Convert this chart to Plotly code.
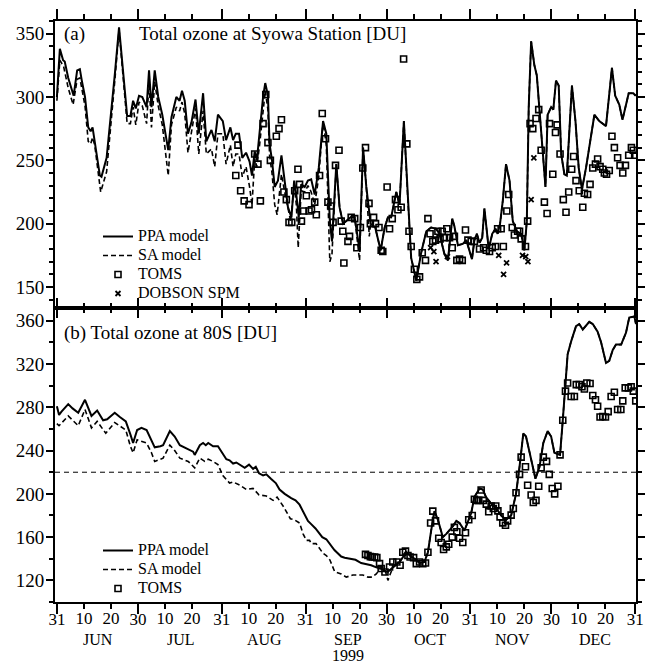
import plotly.graph_objects as go

# ---------------- data (x = days since 31 May 1999) ----------------
# Panel (a): Syowa Station
ppa_a_day = [0, 1.1, 2.3, 2.9, 4.2, 6.2, 7.5, 8.5, 9.3, 10.4, 11.6, 12.5, 13.2, 14, 15.9, 16.5, 18.4, 21.4, 23,
             26, 27.2, 28.2, 29.2, 30.4, 31.6, 33.2, 34.1, 35, 36.2, 37.5, 39, 41.2, 42.4, 44.2, 45.4, 46.3, 47.3,
             48.5, 49.8, 51.3, 52.5, 54.1, 55.3, 57.2, 58.4, 59.6, 61.4, 62.6, 64.2, 65.2, 66.2, 67.4, 68.6, 70,
             71.3, 72.2, 73.2, 74, 75, 76.3, 77.1, 78.1, 78.7, 79.6, 80.6, 81.8, 83.1, 84.3, 85.5, 86.8, 87.8, 88.6,
             89.5, 90.4, 91.7, 92.9, 94.1, 95.4, 96.9, 98.5, 99.7, 101, 101.8, 103.4, 104.6, 105.9, 107.1, 108.7,
             110.2, 112, 113.3, 114.5, 116.1, 117.8, 119.8, 121.3, 122.5, 123.7, 125.6, 126.8, 128.4, 129.9, 131.1,
             133, 134.8, 136.7, 138.5, 140.3, 141.6, 143.4, 144.7, 146.3, 147.1, 148.4, 150.2, 151.5, 152.7, 153.6,
             154.5, 155.4, 156.4, 157.4, 158.2, 159.1, 159.8, 161.1, 162.3, 163.1, 164, 165, 166.2, 167.5, 168.7,
             170.2, 171.8, 173, 173.9, 174.6, 175.5, 176.7, 177.6, 178.5, 179.8, 180.8, 181.6, 182.9, 183.7, 184.7,
             185.7, 186.6, 187.8, 188.7, 190.6, 191.9, 193.1, 194.3, 195.8, 197, 198.9, 200.7, 203.2, 205.4, 206.6,
             208.1, 209.3, 211.6, 213.3, 214.2]
ppa_a_val = [300, 338, 329, 328, 315, 301, 321, 322, 312, 300, 276, 273, 276, 265, 238, 237, 252, 317, 355,
             285, 285, 297, 291, 301, 300, 292, 321, 292, 321, 300, 286, 258, 284, 300, 297, 305, 297,
             271, 280, 298, 271, 303, 265, 274, 265, 286, 281, 266, 276, 266, 271, 271, 252, 256,
             249, 238, 257, 250, 273, 300, 311, 301, 263, 250, 229, 234, 254, 234, 213, 205, 234, 223,
             205, 231, 229, 234, 235, 223, 244, 281, 271, 202, 186, 247, 213, 200, 202, 205,
             205, 179, 260, 229, 200, 197, 179, 197, 205, 205, 225, 215, 281, 218, 173,
             155, 177, 194, 197, 196, 192, 176, 171, 204, 198, 183, 184, 187, 179, 172,
             187, 192, 185, 189, 212, 192, 180, 192, 196, 192, 200, 218, 247, 234, 202,
             194, 192, 179, 202, 292, 344, 325, 317, 292, 258, 229, 286, 292, 290, 313,
             309, 255, 239, 238, 309, 281, 244, 227, 244, 260, 286, 281, 277, 323, 301,
             294, 282, 303, 303, 301]

sa_a_day = [0, 1.1, 2.5, 4.2, 6, 7.5, 8.5, 10.4, 11.6, 12.5, 13.2, 14, 16.2, 18.4, 21.4, 23, 26, 27.2, 28.2,
            29.2, 30.4, 31.6, 33.2, 34.1, 35, 36.2, 37.5, 39, 41.2, 42.4, 44.2, 45.4, 46.3, 47.3, 48.5, 49.8,
            51.3, 52.5, 54.1, 55.3, 57.2, 58.4, 59.6, 61.4, 62.6, 64.2, 65.2, 66.2, 67.4, 68.6, 70, 71.3, 72.2,
            73.2, 74, 75, 76.3, 77.1, 78.1, 78.7, 79.6, 80.6, 81.5, 83.1, 84.3, 85.5, 86.5, 87.8, 88.6, 89.3,
            90.4, 91.7, 92.9, 94.1, 95.4, 96.9, 98.5, 99.7, 101, 101.8, 103.4, 104.6, 105.9, 107.1, 108.7,
            110.2, 112, 113.3, 114.5, 115.6, 116.1, 117.8, 119.8, 121.3, 122.5, 123.7, 125.6, 126.8, 128.4,
            129.9, 131.1, 133, 134.8, 136.7, 138.5, 140.3, 141.6, 143.4, 144.7, 146.3, 147.1, 148.4, 150.2,
            151.5, 152.7, 153.6, 154.5, 155.4, 156.4, 157.4, 158.2, 159.1, 159.8, 161.1, 162.3, 163.1, 164,
            165, 166.2, 167.5, 168.7, 170.2, 171.8, 173, 173.9, 174.6, 175.5, 176.7, 177.6, 178.5, 179.8,
            180.8, 181.6, 182.9, 183.7, 184.7, 185.7, 186.6, 187.8, 188.7, 190.6, 191.9, 193.1, 194.3, 195.8,
            197, 198.9, 200.7, 203.2, 205.4, 206.6, 208.1, 209.3, 211.6, 213.3, 214.2]
sa_a_val = [297, 329, 324, 307, 294, 314, 315, 293, 265, 263, 268, 262, 225, 241, 312, 353, 279, 279, 292,
            278, 296, 293, 279, 312, 276, 312, 293, 278, 238, 278, 292, 289, 296, 287, 256, 273,
            291, 255, 289, 255, 259, 245, 271, 271, 247, 262, 245, 255, 255, 237, 245, 229, 215,
            251, 245, 262, 292, 305, 290, 254, 240, 215, 207, 239, 225, 212, 202, 230, 215, 181,
            226, 225, 230, 225, 215, 237, 281, 262, 170, 176, 247, 213, 200, 202, 205,
            205, 171, 260, 229, 190, 200, 197, 179, 197, 205, 205, 225, 215, 281,
            218, 173, 155, 177, 194, 197, 196, 192, 176, 171, 204, 198, 183, 184,
            187, 179, 172, 187, 192, 185, 189, 212, 192, 180, 192, 196, 192, 200,
            218, 247, 234, 202, 194, 192, 179, 202, 292, 344, 325, 317, 292, 258,
            229, 286, 292, 290, 313, 309, 255, 239, 238, 309, 281, 244, 227, 244,
            260, 286, 281, 277, 323, 301, 294, 282, 303, 303, 301]

toms_a_day = [66.2, 67.0, 68.0, 69.3, 71.1, 73.2, 74.4, 75.3, 76.3, 77.3, 78.1, 79, 81.2, 82.2, 83.1, 84.0, 84.9,
              85.9, 86.9, 88, 89.2, 89.8, 90.5, 91.3, 92.3, 93.3, 94.2, 95.4, 96, 97.2, 98.2, 99.4, 100.3, 101.3,
              102.2, 103.1, 104.4, 105.2, 105.8, 106.2, 107.7, 108.3, 108.9, 110.2, 111, 112.3, 113.2, 114.2,
              115.5, 116, 117.2, 117.9, 119.2, 120, 120.6, 122.2, 123.1, 124.1, 125.3, 126.2, 127.4, 128.3,
              129.5, 130.3, 131.1, 132.3, 133.2, 134.2, 135.2, 136.4, 137.3, 138.1, 139.1, 140.1, 141, 141.8,
              142.6, 143.4, 144.3, 145.3, 146.3, 147.1, 148, 149, 150, 151.2, 152.1, 153.3, 154.5, 156.4, 157.9,
              158.9, 160.1, 161.1, 162.3, 163.1, 164.4, 165.2, 166.5, 167.2, 168.5, 169.3, 170.5, 171.2, 171.8,
              173.4, 174.2, 175.1, 176.1, 177.3, 178.3, 179.2, 180.4, 181.4, 182.3, 183.5, 184.5, 185.1, 186.2,
              187.4, 188.4, 189.4, 190.5, 191.2, 192.1, 193.3, 194.6, 195.2, 196.4, 197.3, 198.3, 199.3, 200.1,
              201, 202, 202.6, 203.4, 204.4, 205.4, 206.3, 207.5, 208.4, 209.4, 210.4, 211.6, 212.6, 213.3, 214.2]
toms_a_val = [238, 262, 226, 218, 215, 255, 247, 218, 279, 302, 264, 250, 269, 275, 282, 225, 219,
              201, 201, 226, 243, 231, 202, 210, 222, 210, 211, 217, 207, 238, 287, 267, 217, 214,
              201, 246, 258, 202, 194, 169, 186, 190, 205, 204, 181, 197, 244, 260,
              216, 200, 205, 200, 197, 179, 178, 229, 196, 204, 219, 211, 213, 330,
              263, 194, 182, 164, 156, 158, 177, 171, 204, 192, 186, 187, 194, 188,
              194, 189, 196, 189, 181, 190, 171, 172, 171, 195, 187, 186, 186, 180, 181,
              179, 178, 181, 182, 196, 196, 182, 210, 223, 197, 191, 194, 194, 188,
              182, 202, 279, 275, 283, 290, 258, 217, 208, 279, 239, 272, 278, 255,
              219, 209, 225, 243, 253, 234, 226, 213, 224, 223, 231, 244, 247, 251,
              245, 243, 240, 239, 242, 269, 260, 252, 246, 240, 246, 254, 260, 258, 254]

dobson_day = [138.3, 139.5, 140.3, 144.5, 163.5, 165.3, 166.4, 172.3, 173.5, 174.3, 175.5, 176.5]
dobson_val = [181, 178, 170, 174, 175, 160, 169, 175, 174, 170, 219, 252]

# Panel (b): 80S
ppa_b_day = [0, 0.8, 1.7, 4.2, 5.8, 7.9, 10.4, 12.8, 14.9, 17.1, 18.6, 21.4, 23.3, 25.5, 27.2, 28.2, 29.7, 31.3,
             33.2, 34.6, 36.2, 38.3, 39.3, 41.8, 43.6, 45.5, 48, 50.4, 51, 52.9, 54.1, 55.1, 56, 57.8, 59.6, 61.2,
             62.7, 63.9, 65.2, 66.4, 68.3, 69.5, 71.1, 72.6, 73.6, 74.8, 76.3, 77.5, 79.2, 81, 82.4, 84.3, 86.7,
             88.3, 89.8, 91.7, 92.9, 94.1, 95.7, 98.2, 99.7, 102.7, 104, 105.2, 106.5, 108.9, 110.5, 112.6, 114.4,
             116.3, 118.2, 119.9, 121.8, 122.5, 124.3, 126.8, 129.3, 131.1, 133, 134.2, 136, 137.3, 138.5, 139.7,
             141, 142.8, 144.1, 146.5, 147.8, 149, 150.8, 152.1, 153.3, 154.5, 156.4, 157.6, 158.8, 160.7, 162.5,
             164.4, 166.2, 168.1, 169.9, 171.2, 172.6, 173.6, 175.5, 177.1, 178.6, 180, 181.6, 182.9, 184.1, 185.3,
             186.2, 187.2, 189, 190.3, 192.1, 193.3, 194.6, 197, 198.3, 200.1, 201.4, 203.2, 204.4, 205.7, 206.9,
             208.8, 210.6, 211.8, 213.7, 214.3]
ppa_b_val = [281, 273, 276, 283, 279, 275, 287, 272, 277, 268, 269, 275, 271, 267, 255, 247, 259, 261,
             259, 252, 243, 244, 245, 258, 253, 245, 242, 239, 236, 245, 247, 245, 247, 244, 244, 238,
             232, 231, 228, 229, 226, 224, 227, 223, 225, 219, 217, 218, 214, 210, 204, 200, 196,
             194, 190, 180, 175, 172, 168, 160, 158, 148, 145, 142, 141, 140, 139, 136, 135,
             134, 132, 131, 128, 128, 132, 137, 146, 142, 139, 136, 137, 146, 166, 184,
             176, 160, 163, 170, 175, 173, 166, 174, 182, 197, 205, 204, 197, 191, 187,
             180, 176, 180, 200, 225, 256, 253, 231, 214, 225, 247, 258, 253, 238, 237,
             236, 268, 329, 341, 355, 357, 352, 359, 357, 350, 340, 321, 323, 333, 338,
             338, 349, 363, 364, 357]

sa_b_day = [0, 0.8, 4.2, 7.9, 10.4, 12.8, 14.9, 18.1, 21.4, 25.5, 27.2, 28.2, 29.7, 33.2, 35, 36.2, 39.3, 41.8,
            43.6, 45.5, 48.6, 51, 52.9, 54.7, 56, 57.8, 59.6, 61.4, 63.9, 65.2, 67.7, 70.1, 72.6, 74.8, 77.5, 80,
            81.5, 83.9, 86.4, 87.9, 89.8, 91.1, 92.3, 93.5, 94.1, 95.9, 98.5, 99.7, 101, 102.8, 105.2, 107.1,
            109.5, 111.4, 113.2, 115.1, 116.6, 118.2, 120, 121.3, 122.5, 124.3, 126.8, 129.3, 131.1, 133, 134.2,
            136, 137.3, 138.5, 139.7, 141, 142.8, 144.1, 146.5, 147.8, 149, 150.8, 152.1, 153.3, 154.5, 156.4,
            157.6, 158.8, 160.7, 162.5, 164.4, 166.2, 168.1, 169.9, 171.2, 172.6, 173.6, 175.5, 177.1, 178.6,
            180, 181.6, 182.9, 184.1, 185.3, 186.2, 187.2, 189, 190.3, 192.1, 193.3, 194.6, 197, 198.3, 200.1,
            201.4, 203.2, 204.4, 205.7, 206.9, 208.8, 210.6, 211.8, 213.7, 214.3]
sa_b_val = [265, 263, 272, 263, 278, 261, 267, 256, 266, 259, 244, 238, 250, 247, 238, 230, 233, 245,
            240, 233, 230, 224, 233, 230, 232, 230, 227, 217, 210, 211, 208, 204, 205, 199, 198, 194,
            197, 188, 177, 176, 173, 163, 157, 157, 154, 154, 145, 143, 139, 128, 126, 123,
            125, 125, 125, 123, 123, 126, 132, 131, 120, 132, 137, 146, 142, 139, 136,
            137, 146, 166, 184, 176, 160, 163, 170, 175, 173, 166, 174, 182, 197, 205,
            204, 197, 191, 187, 180, 176, 180, 200, 225, 256, 253, 231, 214, 225,
            247, 258, 253, 238, 237, 236, 268, 329, 341, 355, 357, 352, 359, 357, 350,
            340, 321, 323, 333, 338, 338, 349, 363, 364, 357]

toms_b_day = [114.2, 115.1, 116, 116.7, 117.6, 118.4, 119.4, 120, 121.4, 123.1, 124.3, 125.8, 127, 128, 129,
              129.9, 130.7, 132, 133, 134.2, 135.4, 136.4, 137.3, 138.3, 139.1, 140.1, 141.3, 142.2, 143.1,
              144.1, 145, 146.3, 147.1, 148, 149, 150.2, 151.2, 152.4, 153.7, 154.5, 155.3, 156.1, 157, 157.8,
              158.9, 159.8, 160.7, 161.5, 162.4, 163.2, 164, 165, 166, 166.8, 168.1, 168.9, 169.9, 171.2, 171.8,
              173.4, 174.2, 175.5, 176.3, 177.3, 178.3, 179.2, 180, 181.2, 182.2, 183.3, 184.2, 185.4, 186.2,
              187.2, 188.2, 189, 190.3, 191.5, 192.2, 193.3, 194.3, 195.2, 196.1, 197.3, 198.3, 199.3, 200.1,
              201, 202, 203, 204, 205.1, 206.3, 207.5, 208.7, 209.4, 210.3, 211.5, 212.5, 213.3, 214.2]
toms_b_val = [144, 143, 142, 141.6, 141.6, 141, 135.5, 131, 127.7, 132.4, 137, 137, 134, 146, 147,
              143, 141.6, 141, 135.5, 137, 135.5, 136, 146, 173, 184, 175, 159, 155, 148.5,
              151, 153.4, 160, 169, 165, 159, 155, 164, 176, 180, 195, 194, 194, 203.5, 194,
              190.5, 183.4, 188.7, 186.5, 188.7, 184.3, 178.7, 173.2, 171, 175, 180.3, 186.5, 201, 218, 234,
              225, 208, 199, 192, 194, 207, 224, 234, 230, 218, 205, 200, 207, 236,
              268, 295, 302.5, 290, 290, 301, 301, 299, 297, 302.5, 302, 291, 287, 281,
              271, 271.5, 271, 276, 290, 294, 278, 278, 286, 298, 298, 299, 295, 286]

ref_level_b = 220

# axis ticks
month_end_days = [0, 30, 61, 92, 122, 153, 183, 214]
month_end_text = ["31", "30", "31", "31", "30", "31", "30", "31"]
mid_days = [10, 20, 40, 50, 71, 81, 102, 112, 132, 142, 163, 173, 193, 203]
mid_text = ["10", "20"] * 7
month_names = ["JUN", "JUL", "AUG", "SEP", "OCT", "NOV", "DEC"]
month_mid_days = [15.2, 45.8, 77, 107.7, 138, 168.5, 199.3]
year_label = "1999"
year_label_day = 107.7

y_a_ticks = [150, 200, 250, 300, 350]
y_b_ticks = [120, 160, 200, 240, 280, 320, 360]

# ---------------- figure ----------------
FONT = "Liberation Serif"
X_RANGE = [-0.7, 214.3]


def leg(name):
    return '<span style="font-size:16px">' + name + '</span>'


solid = dict(color="black", width=2)
dashed = dict(color="black", width=1.6, dash="5px,3px")
sq = dict(symbol="square-open", size=6, color="black", line=dict(width=1.6, color="black"))
xm = dict(symbol="x-thin-open", size=5, color="black", line=dict(width=1.8, color="black"))

fig = go.Figure()
fig.add_trace(go.Scatter(x=ppa_a_day, y=ppa_a_val, mode="lines", line=solid, name=leg("PPA model"),
                         xaxis="x", yaxis="y", legend="legend"))
fig.add_trace(go.Scatter(x=sa_a_day, y=sa_a_val, mode="lines", line=dashed, name=leg("SA model"),
                         xaxis="x", yaxis="y", legend="legend"))
fig.add_trace(go.Scatter(x=toms_a_day, y=toms_a_val, mode="markers", marker=sq, name=leg("TOMS"),
                         xaxis="x", yaxis="y", legend="legend"))
fig.add_trace(go.Scatter(x=dobson_day, y=dobson_val, mode="markers", marker=xm, name=leg("DOBSON SPM"),
                         xaxis="x", yaxis="y", legend="legend"))

fig.add_trace(go.Scatter(x=ppa_b_day, y=ppa_b_val, mode="lines", line=solid, name=leg("PPA model"),
                         xaxis="x2", yaxis="y2", legend="legend2"))
fig.add_trace(go.Scatter(x=sa_b_day, y=sa_b_val, mode="lines", line=dashed, name=leg("SA model"),
                         xaxis="x2", yaxis="y2", legend="legend2"))
fig.add_trace(go.Scatter(x=toms_b_day, y=toms_b_val, mode="markers", marker=sq, name=leg("TOMS"),
                         xaxis="x2", yaxis="y2", legend="legend2"))
# carrier for overlay axis with the 10/20 day labels
fig.add_trace(go.Scatter(x=[None], y=[None], xaxis="x3", yaxis="y2", showlegend=False, hoverinfo="skip"))

W, H = 645, 664
ml, mr, mt, mb = 55, 9, 21, 62
pw = W - ml - mr
ph = H - mt - mb
a_bottom_px, b_top_px = 306, 310
dom_a = [(H - mb - a_bottom_px) / ph, 1]
dom_b = [0, (H - mb - b_top_px) / ph]

common_x = dict(range=X_RANGE, showgrid=False, zeroline=False, showline=True, linecolor="black", linewidth=2,
                ticks="outside", tickcolor="black", tickwidth=1.5, ticklen=10, mirror="ticks",
                tickmode="array", tickvals=month_end_days, ticktext=month_end_text, ticklabelstandoff=-9,
                minor=dict(tickmode="array", tickvals=mid_days, ticks="outside", ticklen=5,
                           tickcolor="black", tickwidth=1.5),
                tickfont=dict(family=FONT, size=17, color="black"))
common_y = dict(showgrid=False, zeroline=False, showline=True, linecolor="black", linewidth=2,
                ticks="outside", tickcolor="black", tickwidth=1.5, ticklen=7, mirror="ticks",
                ticklabelstandoff=-2,
                tickfont=dict(family=FONT, size=19, color="black"))

leg_font = dict(family=FONT, size=12, color="black")
fig.update_layout(
    width=W, height=H,
    margin=dict(l=ml, r=mr, t=mt, b=mb, autoexpand=False),
    paper_bgcolor="white", plot_bgcolor="white",
    showlegend=True,
    xaxis=dict(common_x, domain=[0, 1], anchor="y", showticklabels=False),
    yaxis=dict(common_y, domain=dom_a, anchor="x", range=[135, 360], tickmode="array", tickvals=y_a_ticks,
               minor=dict(dtick=10, tick0=0, ticks="outside", ticklen=4, tickcolor="black", tickwidth=1.5)),
    xaxis2=dict(common_x, domain=[0, 1], anchor="y2", showticklabels=True),
    xaxis3=dict(range=X_RANGE, overlaying="x2", anchor="y2", side="bottom", showgrid=False, zeroline=False,
                showline=False, ticks="outside", ticklen=10, tickcolor="rgba(0,0,0,0)", ticklabelstandoff=-9,
                tickmode="array", tickvals=mid_days, ticktext=mid_text,
                tickfont=dict(family=FONT, size=17, color="black")),
    yaxis2=dict(common_y, domain=dom_b, anchor="x2", range=[100, 370], tickmode="array", tickvals=y_b_ticks,
                minor=dict(dtick=20, tick0=0, ticks="outside", ticklen=4, tickcolor="black", tickwidth=1.5)),
    legend=dict(x=(98 - ml) / pw, xanchor="left", y=(H - mb - 222) / ph, yanchor="top",
                bgcolor="rgba(0,0,0,0)", borderwidth=0, font=leg_font, tracegroupgap=0),
    legend2=dict(x=(98 - ml) / pw, xanchor="left", y=(H - mb - 536) / ph, yanchor="top",
                 bgcolor="rgba(0,0,0,0)", borderwidth=0, font=leg_font, tracegroupgap=0),
)

fig.add_shape(type="line", xref="x2 domain", x0=0, x1=1, yref="y2", y0=ref_level_b, y1=ref_level_b,
              line=dict(color="black", width=1, dash="5px,4px"))

ann_font = dict(family=FONT, size=19, color="black")
fig.add_annotation(text="(a)", xref="x domain", yref="y domain", x=0.012, y=0.955, xanchor="left",
                   yanchor="middle", showarrow=False, font=ann_font)
fig.add_annotation(text="Total ozone at Syowa Station [DU]", xref="x domain", yref="y domain", x=0.141,
                   y=0.955, xanchor="left", yanchor="middle", showarrow=False, font=ann_font)
fig.add_annotation(text="(b) Total ozone at 80S [DU]", xref="x2 domain", yref="y2 domain", x=0.012,
                   y=0.922, xanchor="left", yanchor="middle", showarrow=False, font=ann_font)

for name, d in zip(month_names, month_mid_days):
    fig.add_annotation(text=name, xref="x2", yref="paper", x=d, y=0, yanchor="middle", yshift=-37,
                       showarrow=False, font=dict(family=FONT, size=16, color="black"))
fig.add_annotation(text=year_label, xref="x2", yref="paper", x=year_label_day, y=0, yanchor="middle",
                   yshift=-53, showarrow=False, font=dict(family=FONT, size=16, color="black"))

fig.write_html("out.html", config={"displayModeBar": False},
               post_script="document.body.style.margin='0px';")
